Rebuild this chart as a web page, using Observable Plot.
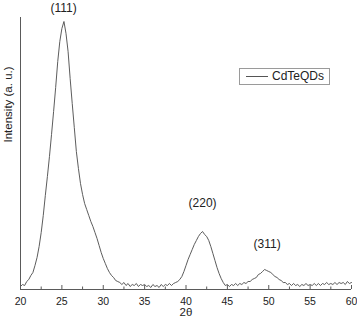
<!DOCTYPE html>
<html>
<head>
<meta charset="utf-8">
<script src="https://cdn.jsdelivr.net/npm/d3@7"></script>
<script src="https://cdn.jsdelivr.net/npm/@observablehq/plot@0.6"></script>
<style>
  html, body { margin: 0; padding: 0; background: #fff; }
  #wrap { position: relative; width: 357px; height: 317px; font-family: "Liberation Sans", Arial, sans-serif; }
  #legend { position: absolute; left: 239px; top: 68px; width: 89px; height: 15px; border: 1px solid #9a9a9a; background: #fff; box-sizing: content-box; }
  #legend .sw { position: absolute; left: 6px; top: 7px; width: 22px; height: 0; border-top: 1px solid #555; }
  #legend .lb { position: absolute; left: 32px; top: 0px; font-size: 12px; line-height: 15px; color: #222; white-space: nowrap; }
</style>
</head>
<body>
<div id="wrap"></div>
<script>
// 2θ positions (degrees)
const theta = [
  20, 20.25, 20.5, 20.75, 21, 21.25, 21.5, 21.75, 22, 22.25, 22.5, 22.75, 23, 23.25, 23.5, 23.75, 24, 24.25, 24.5, 24.75,
  25, 25.25, 25.5, 25.75, 26, 26.25, 26.5, 26.75, 27, 27.25, 27.5, 27.75, 28, 28.25, 28.5, 28.75, 29, 29.25, 29.5, 29.75,
  30, 30.25, 30.5, 30.75, 31, 31.25, 31.5, 31.75, 32, 32.25, 32.5, 32.75, 33, 33.25, 33.5, 33.75, 34, 34.25, 34.5, 34.75,
  35, 35.25, 35.5, 35.75, 36, 36.25, 36.5, 36.75, 37, 37.25, 37.5, 37.75, 38, 38.25, 38.5, 38.75, 39, 39.25, 39.5, 39.75,
  40, 40.25, 40.5, 40.75, 41, 41.25, 41.5, 41.75, 42, 42.25, 42.5, 42.75, 43, 43.25, 43.5, 43.75, 44, 44.25, 44.5, 44.75,
  45, 45.25, 45.5, 45.75, 46, 46.25, 46.5, 46.75, 47, 47.25, 47.5, 47.75, 48, 48.25, 48.5, 48.75, 49, 49.25, 49.5, 49.75,
  50, 50.25, 50.5, 50.75, 51, 51.25, 51.5, 51.75, 52, 52.25, 52.5, 52.75, 53, 53.25, 53.5, 53.75, 54, 54.25, 54.5, 54.75,
  55, 55.25, 55.5, 55.75, 56, 56.25, 56.5, 56.75, 57, 57.25, 57.5, 57.75, 58, 58.25, 58.5, 58.75, 59, 59.25, 59.5, 59.75,
  60
];
// Intensity (a. u.) of CdTeQDs
const intensity = [
  1, 3, 2, 6, 8, 12, 15, 22, 30, 41, 55, 72, 92, 111, 131, 153, 176, 200, 226, 246,
  259, 266, 254, 236, 209, 184, 160, 136, 119, 104, 93, 84, 78, 72, 66, 61, 55, 49, 42, 35,
  29, 24, 19, 15, 12, 10, 7, 6, 5, 3, 5, 2, 4, 1, 3, 2, 4, 1, 3, 2,
  3, 1, 2, 0, 3, 1, 2, 0, 3, 1, 3, 2, 4, 2, 4, 5, 6, 8, 11, 16,
  22, 28, 33, 38, 43, 47, 51, 54, 56, 53, 51, 47, 41, 34, 27, 20, 14, 9, 5, 2,
  3, 1, 3, 2, 4, 2, 4, 3, 5, 4, 6, 6, 8, 9, 10, 13, 14, 16, 18, 17,
  16, 15, 13, 11, 10, 8, 7, 5, 5, 3, 4, 2, 4, 2, 3, 1, 3, 2, 4, 2,
  3, 2, 4, 2, 4, 2, 4, 3, 5, 3, 4, 3, 5, 3, 5, 4, 5, 3, 6, 4,
  5
];
const seriesName = "CdTeQDs";
const peakLabels = ["(111)", "(220)", "(311)"];
const peakTheta = [25.2, 42.0, 49.8];
const peakIntensity = [279, 84, 43];
const majorTicks = [20, 25, 30, 35, 40, 45, 50, 55, 60];
const minorTicks = [22.5, 27.5, 32.5, 37.5, 42.5, 47.5, 52.5, 57.5];
const xLabel = "2θ";
const yLabel = "Intensity (a. u.)";
const xDomain = [20, 60];
const yDomain = [-2, 270];

const data = theta.map((t, i) => ({theta: t, intensity: intensity[i]}));
const peaks = peakLabels.map((l, i) => ({label: l, theta: peakTheta[i], intensity: peakIntensity[i]}));

const font = "Liberation Sans, Arial, sans-serif";
const axisColor = "#5a5a5a";

const chart = Plot.plot({
  width: 357,
  height: 317,
  marginLeft: 20,
  marginRight: 6,
  marginTop: 17,
  marginBottom: 28,
  style: {fontFamily: font, background: "#fff", color: "#222", overflow: "visible"},
  x: {domain: xDomain, axis: null},
  y: {domain: yDomain, axis: null},
  marks: [
    Plot.line(data, {x: "theta", y: "intensity", stroke: "#4a4a4a", strokeWidth: 0.9}),
    Plot.ruleY([yDomain[0]], {stroke: axisColor, strokeWidth: 1}),
    Plot.ruleX([xDomain[0]], {stroke: axisColor, strokeWidth: 1}),
    Plot.axisX({ticks: majorTicks, tickSize: -4, text: null, label: null, stroke: axisColor}),
    Plot.axisX({ticks: minorTicks, tickSize: -2.5, text: null, label: null, stroke: axisColor}),
    Plot.axisX({ticks: majorTicks, tickSize: 0, tickPadding: 8, label: null, fontSize: 10.5, fill: "#222", tickFormat: d => String(d)}),
    Plot.text([xLabel], {frameAnchor: "bottom", dy: 23, fontSize: 11.5, fill: "#222", lineAnchor: "middle"}),
    Plot.text([yLabel], {frameAnchor: "left", rotate: -90, dx: -12, dy: -11, fontSize: 11.5, fill: "#222", lineAnchor: "middle"}),
    Plot.text(peaks, {x: "theta", y: "intensity", text: "label", fontSize: 12, fill: "#222", lineAnchor: "middle"})
  ]
});

const wrap = document.getElementById("wrap");
wrap.appendChild(chart);
const legend = document.createElement("div");
legend.id = "legend";
legend.innerHTML = '<div class="sw"></div><div class="lb"></div>';
legend.querySelector(".lb").textContent = seriesName;
wrap.appendChild(legend);
</script>
</body>
</html>
